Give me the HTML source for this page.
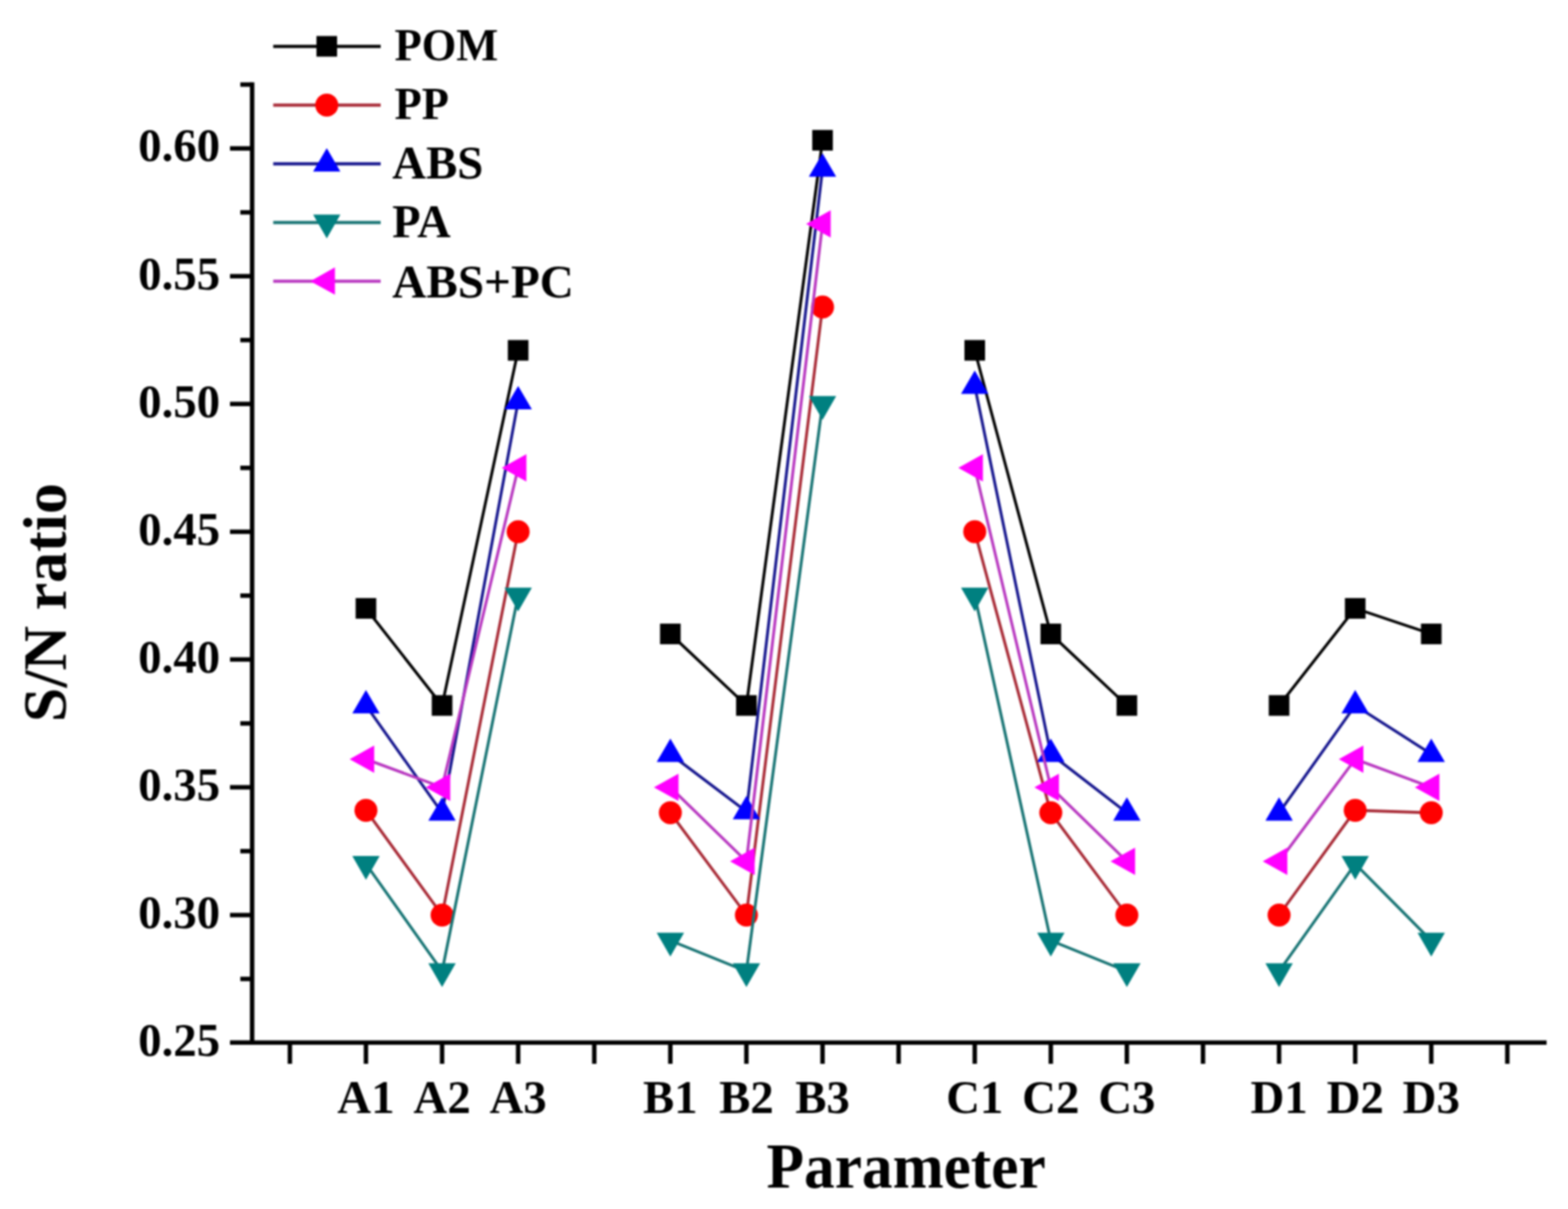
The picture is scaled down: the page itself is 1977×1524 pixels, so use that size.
<!DOCTYPE html>
<html><head><meta charset="utf-8"><title>S/N ratio</title>
<style>html,body{margin:0;padding:0;background:#fff;}svg{display:block;filter:blur(0.8px);}text{font-family:"Liberation Serif","Times New Roman",serif;font-weight:bold;fill:#000;}</style></head><body>
<svg width="1977" height="1524" viewBox="0 0 1977 1524">
<rect width="1977" height="1524" fill="#fff"/>
<g stroke="#000" stroke-width="5.6" fill="none">
<line x1="317.9" y1="103.7" x2="317.9" y2="1317.0"/>
<line x1="315.09999999999997" y1="1314.2" x2="1950" y2="1314.2"/>
<line x1="290" y1="1314.2" x2="317.9" y2="1314.2"/>
<line x1="303" y1="1234.0" x2="317.9" y2="1234.0"/>
<line x1="290" y1="1153.5" x2="317.9" y2="1153.5"/>
<line x1="303" y1="1072.9" x2="317.9" y2="1072.9"/>
<line x1="290" y1="992.4" x2="317.9" y2="992.4"/>
<line x1="303" y1="911.9" x2="317.9" y2="911.9"/>
<line x1="290" y1="831.3" x2="317.9" y2="831.3"/>
<line x1="303" y1="750.8" x2="317.9" y2="750.8"/>
<line x1="290" y1="670.3" x2="317.9" y2="670.3"/>
<line x1="303" y1="589.8" x2="317.9" y2="589.8"/>
<line x1="290" y1="509.2" x2="317.9" y2="509.2"/>
<line x1="303" y1="428.7" x2="317.9" y2="428.7"/>
<line x1="290" y1="348.2" x2="317.9" y2="348.2"/>
<line x1="303" y1="267.7" x2="317.9" y2="267.7"/>
<line x1="290" y1="187.1" x2="317.9" y2="187.1"/>
<line x1="303" y1="106.6" x2="317.9" y2="106.6"/>
<line x1="365.5" y1="1314.2" x2="365.5" y2="1341"/>
<line x1="461.4" y1="1314.2" x2="461.4" y2="1341"/>
<line x1="557.4" y1="1314.2" x2="557.4" y2="1341"/>
<line x1="653.3" y1="1314.2" x2="653.3" y2="1341"/>
<line x1="749.3" y1="1314.2" x2="749.3" y2="1341"/>
<line x1="845.2" y1="1314.2" x2="845.2" y2="1341"/>
<line x1="941.1" y1="1314.2" x2="941.1" y2="1341"/>
<line x1="1037.1" y1="1314.2" x2="1037.1" y2="1341"/>
<line x1="1133.0" y1="1314.2" x2="1133.0" y2="1341"/>
<line x1="1229.0" y1="1314.2" x2="1229.0" y2="1341"/>
<line x1="1324.9" y1="1314.2" x2="1324.9" y2="1341"/>
<line x1="1420.8" y1="1314.2" x2="1420.8" y2="1341"/>
<line x1="1516.8" y1="1314.2" x2="1516.8" y2="1341"/>
<line x1="1612.7" y1="1314.2" x2="1612.7" y2="1341"/>
<line x1="1708.7" y1="1314.2" x2="1708.7" y2="1341"/>
<line x1="1804.6" y1="1314.2" x2="1804.6" y2="1341"/>
<line x1="1900.5" y1="1314.2" x2="1900.5" y2="1341"/>
</g>
<g font-size="59" text-anchor="end">
<text x="277.5" y="1330.8">0.25</text>
<text x="277.5" y="1169.8">0.30</text>
<text x="277.5" y="1008.7">0.35</text>
<text x="277.5" y="847.6">0.40</text>
<text x="277.5" y="686.6">0.45</text>
<text x="277.5" y="525.5">0.50</text>
<text x="277.5" y="364.5">0.55</text>
<text x="277.5" y="203.4">0.60</text>
</g>
<g font-size="59" text-anchor="middle">
<text x="461.4" y="1402.5">A1</text>
<text x="557.4" y="1402.5">A2</text>
<text x="653.3" y="1402.5">A3</text>
<text x="845.2" y="1402.5">B1</text>
<text x="941.1" y="1402.5">B2</text>
<text x="1037.1" y="1402.5">B3</text>
<text x="1229.0" y="1402.5">C1</text>
<text x="1324.9" y="1402.5">C2</text>
<text x="1420.8" y="1402.5">C3</text>
<text x="1612.7" y="1402.5">D1</text>
<text x="1708.7" y="1402.5">D2</text>
<text x="1804.6" y="1402.5">D3</text>
</g>
<text x="1142.5" y="1497" font-size="79.5" text-anchor="middle" textLength="352" lengthAdjust="spacingAndGlyphs">Parameter</text>
<text transform="translate(82.5,759.6) rotate(-90)" font-size="78" text-anchor="middle">S/N ratio</text>
<polyline points="461.4,766.9 557.4,889.3 653.3,441.6" fill="none" stroke="#000000" stroke-width="3.6" stroke-linejoin="round"/>
<polyline points="845.2,799.1 941.1,889.3 1037.1,176.8" fill="none" stroke="#000000" stroke-width="3.6" stroke-linejoin="round"/>
<polyline points="1229.0,441.6 1324.9,799.1 1420.8,889.3" fill="none" stroke="#000000" stroke-width="3.6" stroke-linejoin="round"/>
<polyline points="1612.7,889.3 1708.7,766.9 1804.6,799.1" fill="none" stroke="#000000" stroke-width="3.6" stroke-linejoin="round"/>
<rect x="448.4" y="753.9" width="26" height="26" fill="#000000"/>
<rect x="544.4" y="876.3" width="26" height="26" fill="#000000"/>
<rect x="640.3" y="428.6" width="26" height="26" fill="#000000"/>
<rect x="832.2" y="786.1" width="26" height="26" fill="#000000"/>
<rect x="928.1" y="876.3" width="26" height="26" fill="#000000"/>
<rect x="1024.1" y="163.8" width="26" height="26" fill="#000000"/>
<rect x="1216.0" y="428.6" width="26" height="26" fill="#000000"/>
<rect x="1311.9" y="786.1" width="26" height="26" fill="#000000"/>
<rect x="1407.8" y="876.3" width="26" height="26" fill="#000000"/>
<rect x="1599.7" y="876.3" width="26" height="26" fill="#000000"/>
<rect x="1695.7" y="753.9" width="26" height="26" fill="#000000"/>
<rect x="1791.6" y="786.1" width="26" height="26" fill="#000000"/>
<polyline points="461.4,1021.4 557.4,1153.5 653.3,670.3" fill="none" stroke="#a82a36" stroke-width="3.6" stroke-linejoin="round"/>
<polyline points="845.2,1024.6 941.1,1153.5 1037.1,386.9" fill="none" stroke="#a82a36" stroke-width="3.6" stroke-linejoin="round"/>
<polyline points="1229.0,670.3 1324.9,1024.6 1420.8,1153.5" fill="none" stroke="#a82a36" stroke-width="3.6" stroke-linejoin="round"/>
<polyline points="1612.7,1153.5 1708.7,1021.4 1804.6,1024.6" fill="none" stroke="#a82a36" stroke-width="3.6" stroke-linejoin="round"/>
<circle cx="461.4" cy="1021.4" r="14.5" fill="#ff0000"/>
<circle cx="557.4" cy="1153.5" r="14.5" fill="#ff0000"/>
<circle cx="653.3" cy="670.3" r="14.5" fill="#ff0000"/>
<circle cx="845.2" cy="1024.6" r="14.5" fill="#ff0000"/>
<circle cx="941.1" cy="1153.5" r="14.5" fill="#ff0000"/>
<circle cx="1037.1" cy="386.9" r="14.5" fill="#ff0000"/>
<circle cx="1229.0" cy="670.3" r="14.5" fill="#ff0000"/>
<circle cx="1324.9" cy="1024.6" r="14.5" fill="#ff0000"/>
<circle cx="1420.8" cy="1153.5" r="14.5" fill="#ff0000"/>
<circle cx="1612.7" cy="1153.5" r="14.5" fill="#ff0000"/>
<circle cx="1708.7" cy="1021.4" r="14.5" fill="#ff0000"/>
<circle cx="1804.6" cy="1024.6" r="14.5" fill="#ff0000"/>
<polyline points="461.4,889.3 557.4,1024.6 653.3,506.0" fill="none" stroke="#16168e" stroke-width="3.6" stroke-linejoin="round"/>
<polyline points="845.2,950.5 941.1,1023.0 1037.1,212.9" fill="none" stroke="#16168e" stroke-width="3.6" stroke-linejoin="round"/>
<polyline points="1229.0,486.7 1324.9,950.5 1420.8,1024.6" fill="none" stroke="#16168e" stroke-width="3.6" stroke-linejoin="round"/>
<polyline points="1612.7,1024.6 1708.7,889.3 1804.6,950.5" fill="none" stroke="#16168e" stroke-width="3.6" stroke-linejoin="round"/>
<polygon points="461.4,869.7 444.2,899.2 478.7,899.2" fill="#0000ff"/>
<polygon points="557.4,1004.9 540.1,1034.4 574.6,1034.4" fill="#0000ff"/>
<polygon points="653.3,486.4 636.1,515.9 670.6,515.9" fill="#0000ff"/>
<polygon points="845.2,930.9 828.0,960.4 862.5,960.4" fill="#0000ff"/>
<polygon points="941.1,1003.3 923.9,1032.8 958.4,1032.8" fill="#0000ff"/>
<polygon points="1037.1,193.3 1019.8,222.8 1054.3,222.8" fill="#0000ff"/>
<polygon points="1229.0,467.0 1211.7,496.5 1246.2,496.5" fill="#0000ff"/>
<polygon points="1324.9,930.9 1307.7,960.4 1342.2,960.4" fill="#0000ff"/>
<polygon points="1420.8,1004.9 1403.6,1034.4 1438.1,1034.4" fill="#0000ff"/>
<polygon points="1612.7,1004.9 1595.5,1034.4 1630.0,1034.4" fill="#0000ff"/>
<polygon points="1708.7,869.7 1691.4,899.2 1725.9,899.2" fill="#0000ff"/>
<polygon points="1804.6,930.9 1787.3,960.4 1821.8,960.4" fill="#0000ff"/>
<polyline points="461.4,1089.0 557.4,1224.3 653.3,750.8" fill="none" stroke="#187474" stroke-width="3.6" stroke-linejoin="round"/>
<polyline points="845.2,1185.7 941.1,1224.3 1037.1,509.2" fill="none" stroke="#187474" stroke-width="3.6" stroke-linejoin="round"/>
<polyline points="1229.0,750.8 1324.9,1185.7 1420.8,1224.3" fill="none" stroke="#187474" stroke-width="3.6" stroke-linejoin="round"/>
<polyline points="1612.7,1224.3 1708.7,1089.0 1804.6,1185.7" fill="none" stroke="#187474" stroke-width="3.6" stroke-linejoin="round"/>
<polygon points="461.4,1109.0 444.2,1079.0 478.7,1079.0" fill="#008080"/>
<polygon points="557.4,1244.3 540.1,1214.3 574.6,1214.3" fill="#008080"/>
<polygon points="653.3,770.8 636.1,740.8 670.6,740.8" fill="#008080"/>
<polygon points="845.2,1205.7 828.0,1175.7 862.5,1175.7" fill="#008080"/>
<polygon points="941.1,1244.3 923.9,1214.3 958.4,1214.3" fill="#008080"/>
<polygon points="1037.1,529.2 1019.8,499.2 1054.3,499.2" fill="#008080"/>
<polygon points="1229.0,770.8 1211.7,740.8 1246.2,740.8" fill="#008080"/>
<polygon points="1324.9,1205.7 1307.7,1175.7 1342.2,1175.7" fill="#008080"/>
<polygon points="1420.8,1244.3 1403.6,1214.3 1438.1,1214.3" fill="#008080"/>
<polygon points="1612.7,1244.3 1595.5,1214.3 1630.0,1214.3" fill="#008080"/>
<polygon points="1708.7,1109.0 1691.4,1079.0 1725.9,1079.0" fill="#008080"/>
<polygon points="1804.6,1205.7 1787.3,1175.7 1821.8,1175.7" fill="#008080"/>
<polyline points="461.4,957.0 557.4,992.4 653.3,589.8" fill="none" stroke="#b838c0" stroke-width="3.6" stroke-linejoin="round"/>
<polyline points="845.2,992.4 941.1,1085.8 1037.1,282.2" fill="none" stroke="#b838c0" stroke-width="3.6" stroke-linejoin="round"/>
<polyline points="1229.0,589.8 1324.9,992.4 1420.8,1085.8" fill="none" stroke="#b838c0" stroke-width="3.6" stroke-linejoin="round"/>
<polyline points="1612.7,1085.8 1708.7,957.0 1804.6,992.4" fill="none" stroke="#b838c0" stroke-width="3.6" stroke-linejoin="round"/>
<polygon points="440.8,957.0 471.8,939.7 471.8,974.2" fill="#ff00ff"/>
<polygon points="536.7,992.4 567.7,975.2 567.7,1009.7" fill="#ff00ff"/>
<polygon points="632.7,589.8 663.7,572.5 663.7,607.0" fill="#ff00ff"/>
<polygon points="824.5,992.4 855.5,975.2 855.5,1009.7" fill="#ff00ff"/>
<polygon points="920.5,1085.8 951.5,1068.6 951.5,1103.1" fill="#ff00ff"/>
<polygon points="1016.4,282.2 1047.4,264.9 1047.4,299.4" fill="#ff00ff"/>
<polygon points="1208.3,589.8 1239.3,572.5 1239.3,607.0" fill="#ff00ff"/>
<polygon points="1304.2,992.4 1335.2,975.2 1335.2,1009.7" fill="#ff00ff"/>
<polygon points="1400.2,1085.8 1431.2,1068.6 1431.2,1103.1" fill="#ff00ff"/>
<polygon points="1592.1,1085.8 1623.1,1068.6 1623.1,1103.1" fill="#ff00ff"/>
<polygon points="1688.0,957.0 1719.0,939.7 1719.0,974.2" fill="#ff00ff"/>
<polygon points="1783.9,992.4 1814.9,975.2 1814.9,1009.7" fill="#ff00ff"/>
<line x1="344.5" y1="58.4" x2="480" y2="58.4" stroke="#000000" stroke-width="4"/>
<rect x="399.0" y="45.4" width="26" height="26" fill="#000000"/>
<text x="497.5" y="76.2" font-size="56">POM</text>
<line x1="344.5" y1="132.4" x2="480" y2="132.4" stroke="#a82a36" stroke-width="4"/>
<circle cx="412.0" cy="132.4" r="14.5" fill="#ff0000"/>
<text x="497.5" y="150" font-size="56">PP</text>
<line x1="344.5" y1="206.4" x2="480" y2="206.4" stroke="#16168e" stroke-width="4"/>
<polygon points="412.0,186.7 394.8,216.2 429.2,216.2" fill="#0000ff"/>
<text x="494.6" y="225" font-size="59">ABS</text>
<line x1="344.5" y1="280.4" x2="480" y2="280.4" stroke="#187474" stroke-width="4"/>
<polygon points="412.0,300.4 394.8,270.4 429.2,270.4" fill="#008080"/>
<text x="494.6" y="298.6" font-size="58.5">PA</text>
<line x1="344.5" y1="354.4" x2="480" y2="354.4" stroke="#b838c0" stroke-width="4"/>
<polygon points="391.3,354.4 422.3,337.1 422.3,371.6" fill="#ff00ff"/>
<text x="494.6" y="374.6" font-size="59.5">ABS+PC</text>
</svg>
</body></html>
